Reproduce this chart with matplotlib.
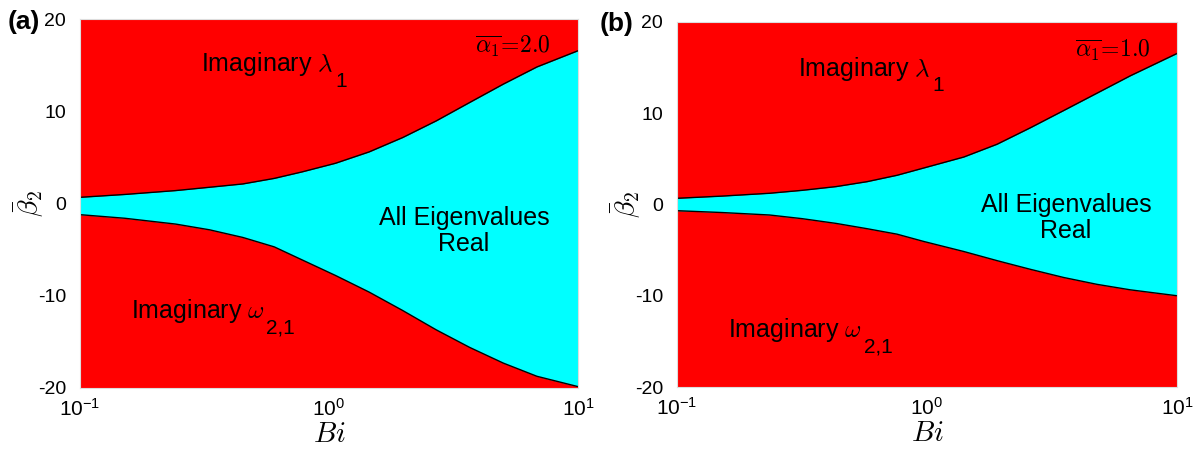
import matplotlib.pyplot as plt
import matplotlib as mpl
import numpy as np
from matplotlib.ticker import FixedLocator, FuncFormatter

mpl.rcParams['font.family'] = ['Liberation Sans', 'DejaVu Sans']
mpl.rcParams['mathtext.fontset'] = 'custom'
mpl.rcParams['mathtext.rm'] = 'Liberation Sans'
mpl.rcParams['mathtext.it'] = 'Liberation Sans:italic'
mpl.rcParams['mathtext.sf'] = 'Liberation Sans'
mpl.rcParams['axes.unicode_minus'] = False

# panel (a), alpha1 = 2.0 : boundaries (log10 Bi, beta2)
loga = [-1.0, -0.82, -0.616, -0.48, -0.346, -0.22, -0.109, 0.026, 0.161, 0.296, 0.431, 0.565, 0.70, 0.835, 1.0]
a_up = [0.67, 0.98, 1.40, 1.76, 2.12, 2.72, 3.42, 4.36, 5.59, 7.15, 8.96, 10.95, 12.94, 14.8, 16.56]
a_lo = [-1.21, -1.6, -2.23, -2.85, -3.68, -4.7, -6.1, -7.8, -9.6, -11.6, -13.7, -15.6, -17.3, -18.73, -19.85]

# panel (b), alpha1 = 1.0
logb = [-1.0, -0.82, -0.63, -0.5, -0.364, -0.24, -0.12, -0.013, 0.147, 0.28, 0.413, 0.547, 0.68, 0.813, 1.0]
b_up = [0.68, 0.92, 1.23, 1.55, 1.96, 2.5, 3.2, 4.0, 5.2, 6.6, 8.4, 10.3, 12.2, 14.1, 16.55]
b_lo = [-0.68, -0.88, -1.15, -1.55, -2.07, -2.65, -3.25, -4.05, -5.15, -6.15, -7.1, -8.0, -8.75, -9.35, -10.0]

alphas = ['2.0', '1.0']
panels = ['(a)', '(b)']
xticks = [0.1, 1, 10]
yticks = [-20, -10, 0, 10, 20]

fig = plt.figure(figsize=(11.98, 4.59), dpi=100)
rects = [[80/1198, 1-388/459, 498/1198, 369/459],
         [677/1198, 1-387/459, 500/1198, 365/459]]

data = [(loga, a_up, a_lo), (logb, b_up, b_lo)]
txtpos = [dict(lam=(-0.516, 15.1), real=(0.542, -3.0), om=(-0.797, -11.7), al=(0.892, 17.0)),
          dict(lam=(-0.516, 14.9), real=(0.556, -1.5), om=(-0.796, -13.8), al=(0.895, 16.9))]


def label_with_sub(ax, x, y, main, sub):
    t = ax.text(x, y, main, fontsize=18, va='center', math_fontfamily='cm')
    ax.annotate(sub, xy=(1, 0), xycoords=t, xytext=(1.5, -6), textcoords='offset points',
                fontsize=15, va='baseline', ha='left')


for i in range(2):
    ax = fig.add_axes(rects[i])
    lx, yu, yl = data[i]
    bi = 10**np.array(lx)
    ax.set_facecolor('#ff0000')
    ax.fill_between(bi, yl, yu, color='#00ffff', lw=0)
    ax.plot(bi, yu, color='k', lw=1)
    ax.plot(bi, yl, color='k', lw=1)
    ax.set_xscale('log')
    ax.set_xlim(0.1, 10)
    ax.set_ylim(-20, 20)
    ax.xaxis.set_major_locator(FixedLocator(xticks))
    ax.xaxis.set_minor_locator(FixedLocator([]))
    ax.xaxis.set_major_formatter(FuncFormatter(lambda v, p: r'$10^{%d}$' % round(np.log10(v))))
    ax.set_yticks(yticks)
    ax.tick_params(length=0, labelsize=14, pad=10)
    ax.tick_params(axis='x', labelsize=15, pad=7)
    for s in ax.spines.values():
        s.set_color('#dddddd')
        s.set_linewidth(0.8)
    ax.set_xlabel(r'$Bi$', fontsize=21, labelpad=0, math_fontfamily='cm')
    ax.set_ylabel(r'$\bar{\beta}_2$', fontsize=20, math_fontfamily='cm')
    ax.yaxis.set_label_coords(-0.068, 0.5)

    tp = txtpos[i]
    label_with_sub(ax, 10**tp['lam'][0], tp['lam'][1], r'Imaginary $\lambda$', '1')
    label_with_sub(ax, 10**tp['om'][0], tp['om'][1], r'Imaginary $\omega$', '2,1')
    ax.text(10**tp['real'][0], tp['real'][1], 'All Eigenvalues\nReal', fontsize=18,
            ha='center', va='center', linespacing=1.1)
    ax.text(10**tp['al'][0], tp['al'][1], r'$\overline{\alpha_1}\!=\!%s$' % alphas[i], fontsize=17,
            ha='right', va='center', math_fontfamily='cm')

fig.text(8/1198, 1-22/459, panels[0], fontsize=19, fontweight='bold', va='center')
fig.text(600/1198, 1-24/459, panels[1], fontsize=19, fontweight='bold', va='center')

fig.savefig('out.png', dpi=100)
